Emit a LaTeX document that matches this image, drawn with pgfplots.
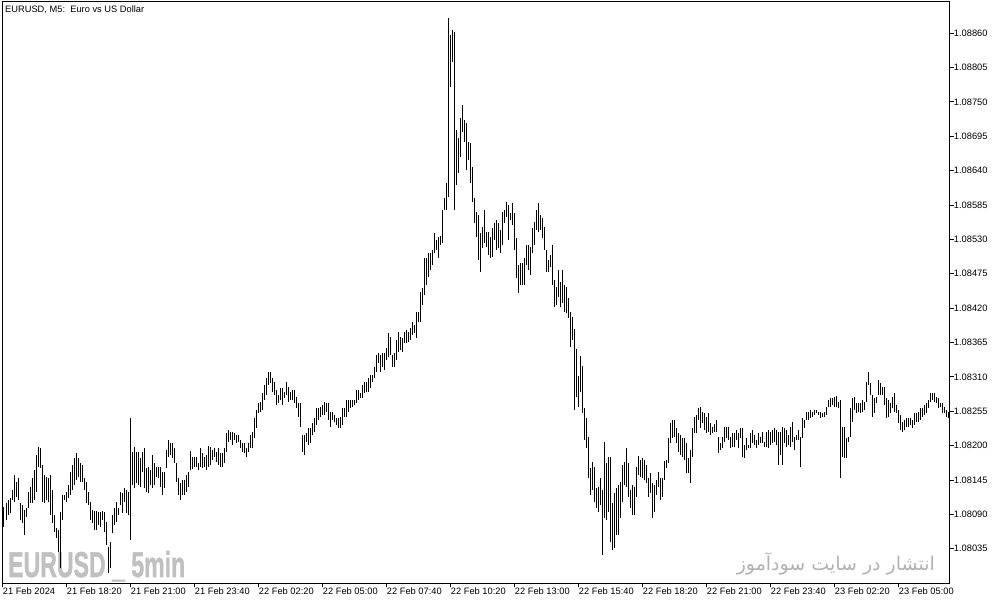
\documentclass[border=0pt]{standalone}
\usepackage{pgfplots}
\pgfplotsset{compat=1.18}
\usepackage{pgfplotstable}
\usepackage{fontspec}
\setmainfont{Liberation Sans}
\newfontfamily\arabicfont[Script=Arabic]{DejaVu Sans}
\newfontfamily\wmfont[BoldFeatures={FakeBold=1.6}]{Liberation Sans}
\TeXXeTstate=1
\definecolor{wmgray}{RGB}{192,192,192}
\definecolor{fagray}{RGB}{178,178,178}

% M5 bars: high and low in points above 1.08000 (1 point = 0.00001)
\pgfplotstableread[row sep=\\]{
hi lo\\
102 70\\ 108 81\\ 113 89\\ 116 92\\ 129 113\\ 153 110\\ 142 118\\ 148 113\\ 108 81\\ 105 76\\
97 57\\ 100 86\\ 126 100\\ 134 108\\ 148 108\\ 161 113\\ 185 126\\ 198 166\\ 196 164\\ 169 110\\
153 108\\ 150 113\\ 148 110\\ 153 89\\ 129 76\\ 89 62\\ 68 52\\ 65 30\\ 94 4\\ 121 81\\
121 113\\ 126 110\\ 137 116\\ 158 121\\ 169 129\\ 180 137\\ 188 145\\ 180 150\\ 172 142\\ 169 142\\
148 129\\ 142 108\\ 126 105\\ 110 81\\ 97 76\\ 95 65\\ 95 65\\ 94 73\\ 94 70\\ 95 81\\
94 62\\ 78 41\\ 38 -4\\ 46 4\\ 89 60\\ 100 73\\ 110 78\\ 100 89\\ 126 105\\ 124 92\\
132 110\\ 129 92\\ 126 89\\ 244 49\\ 190 137\\ 198 132\\ 190 140\\ 190 137\\ 180 134\\ 190 158\\
196 132\\ 164 126\\ 166 124\\ 161 137\\ 185 132\\ 172 137\\ 166 150\\ 166 148\\ 166 134\\ 158 121\\
158 132\\ 193 164\\ 209 182\\ 204 185\\ 204 180\\ 196 172\\ 172 142\\ 148 121\\ 140 113\\ 145 121\\
145 121\\ 153 126\\ 158 134\\
191 161\\ 182 163\\ 182 166\\ 182 166\\ 172 161\\ 196 166\\ 188 164\\ 182 166\\ 185 161\\ 199 166\\
198 169\\ 193 177\\ 196 182\\ 190 174\\ 196 169\\ 188 166\\ 188 166\\ 196 172\\ 220 190\\ 225 206\\
222 209\\ 222 201\\ 220 209\\ 217 204\\ 217 206\\ 209 196\\ 204 190\\ 204 188\\ 196 182\\ 204 190\\
217 196\\ 222 196\\ 244 212\\ 257 228\\ 268 252\\ 270 254\\ 284 257\\ 297 273\\ 308 281\\ 318 297\\
318 300\\ 308 286\\ 302 281\\ 289 265\\ 281 268\\ 292 273\\ 292 265\\ 286 276\\ 302 281\\ 294 270\\
286 273\\ 289 273\\ 289 268\\ 278 260\\ 268 246\\ 268 230\\ 217 190\\ 217 185\\ 220 206\\ 228 201\\
228 204\\ 236 217\\ 244 222\\ 260 233\\ 260 241\\ 262 246\\ 265 249\\ 270 249\\ 268 254\\ 268 241\\
254 230\\ 254 241\\ 249 238\\ 244 233\\ 244 228\\ 246 228\\ 260 233\\ 260 246\\ 273 246\\ 273 254\\
273 260\\ 273 262\\ 273 265\\ 289 268\\ 289 273\\ 284 276\\ 297 276\\ 302 284\\ 302 286\\ 308 286\\
313 292\\ 313 302\\ 326 308\\ 345 318\\ 348 332\\ 345 318\\ 348 326\\ 348 321\\
356 337\\ 380 342\\ 374 345\\ 345 326\\ 348 326\\ 369 337\\ 382 350\\ 374 353\\ 372 350\\ 382 364\\
385 364\\ 382 366\\ 388 369\\ 398 377\\ 393 380\\ 414 372\\ 414 398\\ 446 398\\ 452 425\\ 500 441\\
500 457\\ 508 470\\ 508 481\\ 513 489\\ 540 508\\ 529 513\\ 534 500\\ 535 521\\ 577 524\\ 596 577\\
620 577\\ 884 598\\ 857 774\\ 865 814\\ 862 577\\ 705 617\\ 692 636\\ 724 662\\ 745 702\\ 721 686\\
716 641\\ 686 657\\ 684 620\\ 646 590\\ 596 556\\ 574 534\\ 569 497\\ 540 478\\ 550 516\\ 577 524\\
542 518\\ 542 505\\ 534 500\\ 548 502\\ 556 529\\ 561 513\\ 556 516\\ 545 508\\ 574 521\\ 577 556\\
590 566\\ 585 529\\ 572 561\\ 588 553\\ 572 513\\ 532 468\\ 489 444\\ 492 457\\ 492 457\\ 500 457\\
521 489\\ 521 481\\ 518 473\\ 548 508\\ 558 521\\ 577 545\\ 588 542\\ 569 545\\ 564 532\\ 550 513\\
513 478\\ 497 478\\ 505 486\\ 521 457\\ 465 422\\ 454 425\\ 481 438\\ 462 422\\ 481 428\\ 457 414\\
454 412\\ 436 404\\
414 358\\ 406 369\\ 387 257\\ 355 278\\ 311 262\\ 343 286\\ 327 252\\ 260 209\\ 244 196\\ 214 148\\
164 121\\ 174 129\\ 166 110\\ 132 100\\ 134 94\\ 148 105\\ 129 25\\ 206 84\\ 172 81\\ 182 94\\
182 46\\ 108 33\\ 124 36\\ 132 57\\ 137 57\\ 142 84\\ 169 110\\ 174 137\\ 196 134\\ 172 118\\
129 100\\ 137 89\\ 134 89\\ 166 118\\ 183 153\\ 177 150\\ 180 148\\ 177 145\\ 169 140\\ 148 118\\
156 124\\ 140 84\\ 137 94\\ 145 121\\ 158 134\\ 148 113\\ 148 118\\ 175 145\\ 177 164\\ 212 172\\
236 204\\ 241 212\\ 241 214\\ 228 204\\ 220 190\\ 217 185\\ 212 182\\ 212 177\\ 204 156\\ 180 156\\
193 140\\ 228 182\\ 246 220\\ 249 220\\ 260 241\\ 262 228\\ 254 236\\ 252 225\\ 246 220\\ 252 222\\
236 217\\ 230 220\\ 235 222\\ 241 222\\ 214 188\\ 204 193\\ 214 196\\ 230 206\\ 230 212\\ 230 209\\
214 196\\ 220 198\\ 220 198\\ 225 209\\ 220 196\\ 228 212\\ 228 182\\ 201 180\\ 212 193\\ 201 196\\
220 196\\ 225 204\\ 217 201\\ 209 196\\ 220 201\\ 214 204\\ 222 204\\ 206 198\\
222 198\\ 225 196\\ 222 201\\ 225 204\\ 228 206\\ 225 201\\ 222 169\\ 222 185\\ 230 169\\ 228 204\\
225 198\\ 217 201\\ 230 198\\ 238 206\\ 214 193\\ 217 209\\ 225 209\\ 214 166\\ 244 212\\ 241 228\\
254 241\\ 254 241\\ 257 244\\ 254 246\\ 257 249\\ 257 252\\ 254 249\\ 254 244\\ 252 246\\ 254 246\\
262 249\\ 273 262\\ 276 262\\ 276 265\\ 278 262\\ 279 262\\ 270 260\\ 273 148\\ 230 182\\ 230 180\\
212 180\\ 214 206\\ 260 214\\ 276 238\\ 278 257\\ 268 252\\ 268 254\\ 268 252\\ 273 254\\ 270 257\\
302 270\\ 318 297\\ 300 281\\ 281 246\\ 276 252\\ 278 268\\ 305 281\\ 300 281\\ 294 281\\ 294 265\\
276 244\\ 273 246\\ 268 252\\ 278 260\\ 284 254\\ 265 252\\ 257 236\\ 249 225\\ 238 222\\ 241 225\\
244 230\\ 244 230\\ 244 233\\ 241 228\\ 252 233\\ 252 238\\ 254 238\\ 260 241\\ 260 246\\ 265 249\\
268 252\\ 273 260\\ 284 270\\ 284 273\\ 284 270\\ 278 268\\ 276 260\\ 268 262\\ 268 252\\ 262 252\\
257 246\\ 254 244\\
}\bars

\begin{document}
\begin{tikzpicture}
\begin{axis}[
    scale only axis,
    width=947bp, height=581.6bp,
    xmin=-0.65, xmax=472.85,
    ymin=-20.3, ymax=910.3,
    clip=false,
    axis line style={line width=0.8bp},
    tick style={black, line width=0.8bp},
    tick align=outside,
    major tick length=4bp,
    xtick pos=bottom,
    ytick pos=right,
    yticklabel pos=right,
    xtick={-0.65,31.35,...,447.35},
    xticklabels={21 Feb 2024,21 Feb 18:20,21 Feb 21:00,21 Feb 23:40,22 Feb 02:20,22 Feb 05:00,22 Feb 07:40,22 Feb 10:20,22 Feb 13:00,22 Feb 15:40,22 Feb 18:20,22 Feb 21:00,22 Feb 23:40,23 Feb 02:20,23 Feb 05:00},
    ytick={35,90,...,860},
    yticklabels={1.08035,1.08090,1.08145,1.08200,1.08255,1.08310,1.08365,1.08420,1.08475,1.08530,1.08585,1.08640,1.08695,1.08750,1.08805,1.08860},
    tick label style={font=\fontsize{9.3bp}{11bp}\selectfont},
    xticklabel style={anchor=north west, inner sep=0pt},
    yticklabel style={anchor=west, inner sep=0pt},
]
\node[anchor=base west, inner sep=0pt, text=wmgray] at (axis cs:2,-10.2)
    {\resizebox{177bp}{26bp}{\wmfont\bfseries EURUSD \_ 5min}};
\node[anchor=east, inner sep=0pt, text=fagray] at (axis cs:465.5,10.6)
    {\resizebox{198bp}{!}{\arabicfont\beginR انتشار در سایت سودآموز\endR}};
\addplot[forget plot, draw=none, mark=none,
    error bars/.cd, y dir=plus, y explicit, error mark=none,
    error bar style={draw=black, line width=1bp}]
    table[x expr=\coordindex, y=lo, y error plus expr=\thisrow{hi}-\thisrow{lo}] {\bars};
\end{axis}
\node[anchor=west, inner sep=0pt, font=\fontsize{9.3bp}{11bp}\selectfont]
    at ([shift={(2.3bp,-8.3bp)}]current axis.north west) {EURUSD, M5:\ \ Euro vs US Dollar};
\pgfresetboundingbox
\path[use as bounding box] ([shift={(-2.7bp,-21.7bp)}]current axis.south west)
    rectangle ([shift={(53.3bp,1.7bp)}]current axis.north east);
\end{tikzpicture}
\end{document}
